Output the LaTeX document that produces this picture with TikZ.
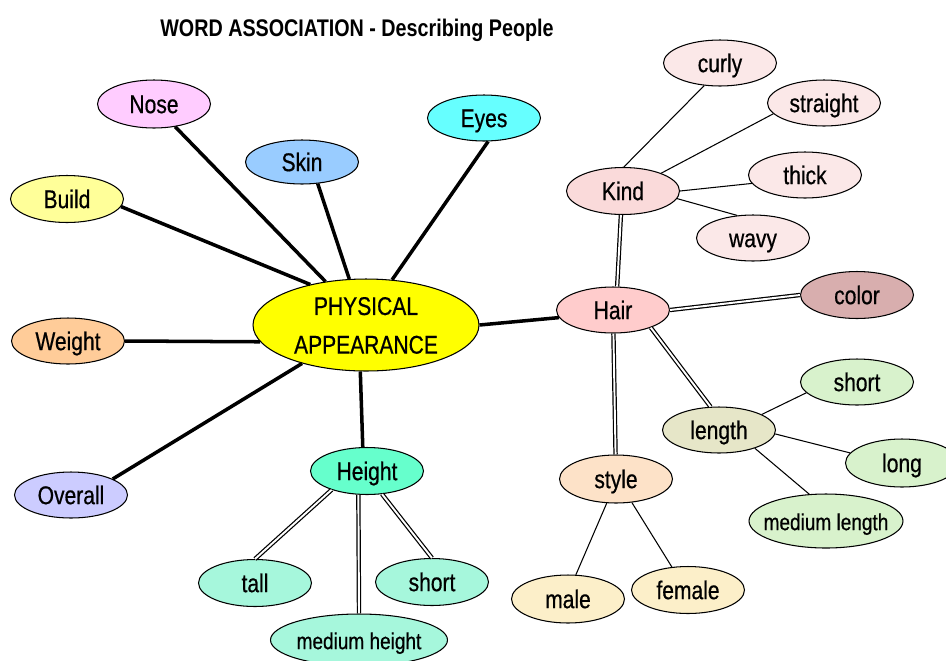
\documentclass[tikz,border=0pt]{standalone}
\usepackage{fontspec}
\setmainfont{Liberation Sans}[FakeStretch=0.82]
\newfontfamily\labelfont{Liberation Sans}[FakeStretch=0.82, FakeBold=0.6]
\usetikzlibrary{shapes.geometric}
\definecolor{paYellow}{HTML}{FFFF00}
\definecolor{noseFill}{HTML}{FFCCFF}
\definecolor{skinFill}{HTML}{99CCFF}
\definecolor{eyesFill}{HTML}{66FFFF}
\definecolor{buildFill}{HTML}{FFFF99}
\definecolor{weightFill}{HTML}{FFCC99}
\definecolor{overallFill}{HTML}{CCCCFF}
\definecolor{heightFill}{HTML}{66FFCC}
\definecolor{heightKid}{HTML}{A6F7DC}
\definecolor{hairFill}{HTML}{FFCCCC}
\definecolor{kindFill}{HTML}{FADADA}
\definecolor{kindKid}{HTML}{FBE8E8}
\definecolor{colorFill}{HTML}{D8AEAE}
\definecolor{lengthFill}{HTML}{E6E6C8}
\definecolor{lengthKid}{HTML}{D8F2CC}
\definecolor{styleFill}{HTML}{FDE2C8}
\definecolor{styleKid}{HTML}{FCEFC9}
\begin{document}
\begin{tikzpicture}[x=0.02cm, y=-0.02cm]
\tikzstyle{every node} = [ellipse, draw, line width=0.6pt, minimum width=2.26cm, minimum height=0.92cm, inner sep=0pt, text height=10.4pt, text depth=0pt, font=\labelfont\fontsize{14.6}{17}\selectfont]
\tikzstyle{bold line} = [line width=2pt]
\tikzstyle{double line} = [double, double distance=1.1pt, line width=0.7pt]
\tikzstyle{thin line} = [line width=0.6pt]
\useasboundingbox (0,0) rectangle (946,660);
\node[shape=rectangle, draw=none, anchor=base, text height=, font=\bfseries\fontsize{13.7}{16}\selectfont] (title) at (357,36) {WORD ASSOCIATION - Describing People};
% centre
\node[fill=paYellow, minimum width=4.52cm, minimum height=1.84cm, align=center, text height=32.6pt] (pa) at (366,325) {PHYSICAL\\[5pt]APPEARANCE};
\node[fill=noseFill, minimum height=0.96cm] (nose) at (154,104) {Nose};
\node[fill=skinFill, minimum height=0.88cm] (skin) at (302,162) {Skin};
\node[fill=eyesFill] (eyes) at (484,118) {Eyes};
\node[fill=buildFill, minimum height=0.94cm] (build) at (67,199) {Build};
\node[fill=weightFill] (weight) at (68,341) {Weight};
\node[fill=overallFill] (overall) at (71,495) {Overall};
% height
\node[fill=heightFill, minimum height=0.94cm] (height) at (367,471) {Height};
\node[fill=heightKid, minimum height=0.94cm] (tall) at (255,583) {tall};
\node[fill=heightKid, minimum height=0.94cm] (hshort) at (432,582) {short};
\node[fill=heightKid, minimum width=3.54cm, minimum height=1.04cm, font=\labelfont\fontsize{13.2}{16}\selectfont] (mheight) at (359,640) {\makebox[2cm]{medium height}};
% hair
\node[fill=hairFill] (hair) at (613,310) {Hair};
\node[fill=kindFill, minimum height=0.94cm] (kind) at (623,191) {Kind};
\node[fill=kindKid] (curly) at (720,63) {curly};
\node[fill=kindKid] (straight) at (824,103) {straight};
\node[fill=kindKid] (thick) at (805,175) {thick};
\node[fill=kindKid] (wavy) at (753,238) {wavy};
\node[fill=colorFill, minimum height=0.94cm] (color) at (857,295) {color};
\node[fill=lengthFill] (length) at (719,430) {length};
\node[fill=lengthKid] (lshort) at (857,382) {short};
\node[fill=lengthKid, minimum height=0.96cm] (long) at (902,463) {long};
\node[fill=lengthKid, minimum width=3.08cm, minimum height=1.08cm, font=\labelfont\fontsize{13.2}{16}\selectfont] (mlength) at (826,521) {\makebox[2cm]{medium length}};
\node[fill=styleFill, minimum height=0.96cm] (style) at (616,479) {style};
\node[fill=styleKid, minimum height=0.96cm] (male) at (568,599) {male};
\node[fill=styleKid, minimum height=0.94cm] (female) at (688,590) {female};
% connectors
\foreach \from/\to in {nose.313/pa.133, skin.306/pa.110, eyes.280/pa.60, build.352/pa.144, weight.east/pa.189, overall.21/pa.211, pa.263/height.100, pa.0/hair.188}
\draw [bold line] (\from) -- (\to);
\foreach \from/\to in {kind.265/hair.80, hair/style, hair.east/color.west, hair.335/length.110, height.208/tall.north, height.250/mheight.north, height.303/hshort.north}
\draw [double line] (\from) -- (\to);
\foreach \from/\to in {kind.88/curly.235, kind.25/straight.192, kind.east/thick.189, kind.352/wavy.125, length.20/lshort.192, length.356/long.169, length.333/mlength.122, style.249/male.72, style.304/female.125}
\draw [thin line] (\from) -- (\to);
\end{tikzpicture}
\end{document}
